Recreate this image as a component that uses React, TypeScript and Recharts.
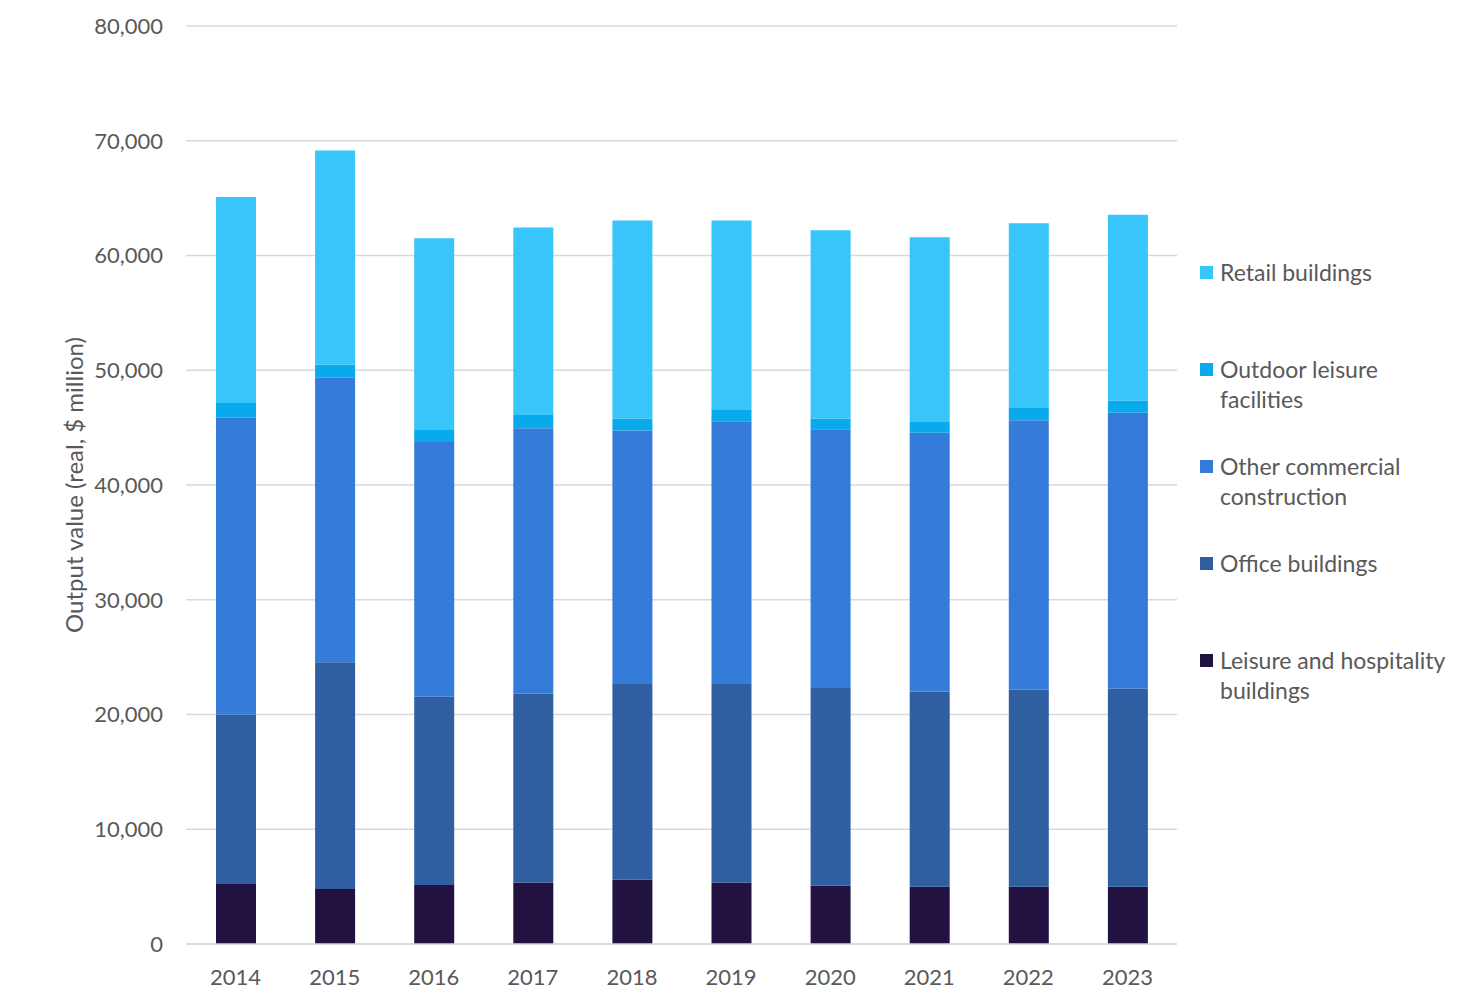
import { BarChart, Bar, XAxis, YAxis, CartesianGrid, Legend } from 'recharts'

const years = ['2014', '2015', '2016', '2017', '2018', '2019', '2020', '2021', '2022', '2023']
const leisure = [5300, 4800, 5150, 5350, 5600, 5350, 5100, 5000, 5000, 5000]
const office = [14700, 19750, 16400, 16450, 17050, 17300, 17200, 17000, 17150, 17250]
const otherCommercial = [25850, 24800, 22200, 23150, 22100, 22900, 22550, 22550, 23500, 24050]
const outdoor = [1300, 1150, 1050, 1150, 1050, 1050, 950, 950, 1050, 1050]
const retail = [17950, 18650, 16700, 16350, 17250, 16450, 16400, 16100, 16100, 16200]
const yTicks = [0, 10000, 20000, 30000, 40000, 50000, 60000, 70000, 80000]

const data = years.map((year, i) => ({
  year,
  leisure: leisure[i],
  office: office[i],
  other: otherCommercial[i],
  outdoor: outdoor[i],
  retail: retail[i],
}))

const TEXT = '#595959'
const FONT = 'Lato, "Open Sans", sans-serif'

function LegendList({ payload }: any) {
  const items = [...(payload ?? [])].reverse()
  return (
    <div style={{ fontFamily: FONT, fontSize: 23, color: TEXT }}>
      {items.map((item: any) => (
        <div key={item.value} style={{ display: 'flex', height: 97, lineHeight: '30px' }}>
          <span
            style={{
              width: 13,
              height: 13,
              marginTop: 9,
              marginRight: 7,
              flex: 'none',
              background: item.color,
            }}
          />
          <span style={{ width: 238 }}>{item.value}</span>
        </div>
      ))}
    </div>
  )
}

export default function App() {
  return (
    <div style={{ position: 'absolute', left: 0, top: 0, width: 1469, height: 1005, background: '#fff', fontFamily: FONT }}>
      <BarChart
        width={1469}
        height={1005}
        data={data}
        margin={{ top: 26, right: 292, bottom: 0, left: 0 }}
      >
        <CartesianGrid vertical={false} stroke="#d9d9d9" strokeWidth={1.5} />
        <XAxis
          dataKey="year"
          height={61}
          tickLine={false}
          tickMargin={19}
          axisLine={{ stroke: '#d9d9d9', strokeWidth: 1.5 }}
          tick={{ fill: TEXT, fontSize: 22, fontFamily: FONT }}
        />
        <YAxis
          width={186}
          domain={[0, 80000]}
          ticks={yTicks}
          tickLine={false}
          axisLine={false}
          tickMargin={17}
          tick={{ fill: TEXT, fontSize: 22, fontFamily: FONT }}
          tickFormatter={(v: number) => v.toLocaleString('en-US')}
          label={{
            value: 'Output value (real, $ million)',
            angle: -90,
            position: 'insideLeft',
            offset: 74,
            style: { textAnchor: 'middle', fill: TEXT, fontSize: 24, fontFamily: FONT },
          }}
        />
        <Legend
          layout="vertical"
          align="center"
          verticalAlign="middle"
          content={<LegendList />}
          wrapperStyle={{ left: 1200, top: 257, width: 268, height: 490 }}
        />
        <Bar dataKey="leisure" name="Leisure and hospitality buildings" stackId="a" fill="#211242" barSize={40} isAnimationActive={false} />
        <Bar dataKey="office" name="Office buildings" stackId="a" fill="#2F5FA0" barSize={40} isAnimationActive={false} />
        <Bar dataKey="other" name="Other commercial construction" stackId="a" fill="#357BD9" barSize={40} isAnimationActive={false} />
        <Bar dataKey="outdoor" name="Outdoor leisure facilities" stackId="a" fill="#08AAEC" barSize={40} isAnimationActive={false} />
        <Bar dataKey="retail" name="Retail buildings" stackId="a" fill="#37C5FA" barSize={40} isAnimationActive={false} />
      </BarChart>
    </div>
  )
}
